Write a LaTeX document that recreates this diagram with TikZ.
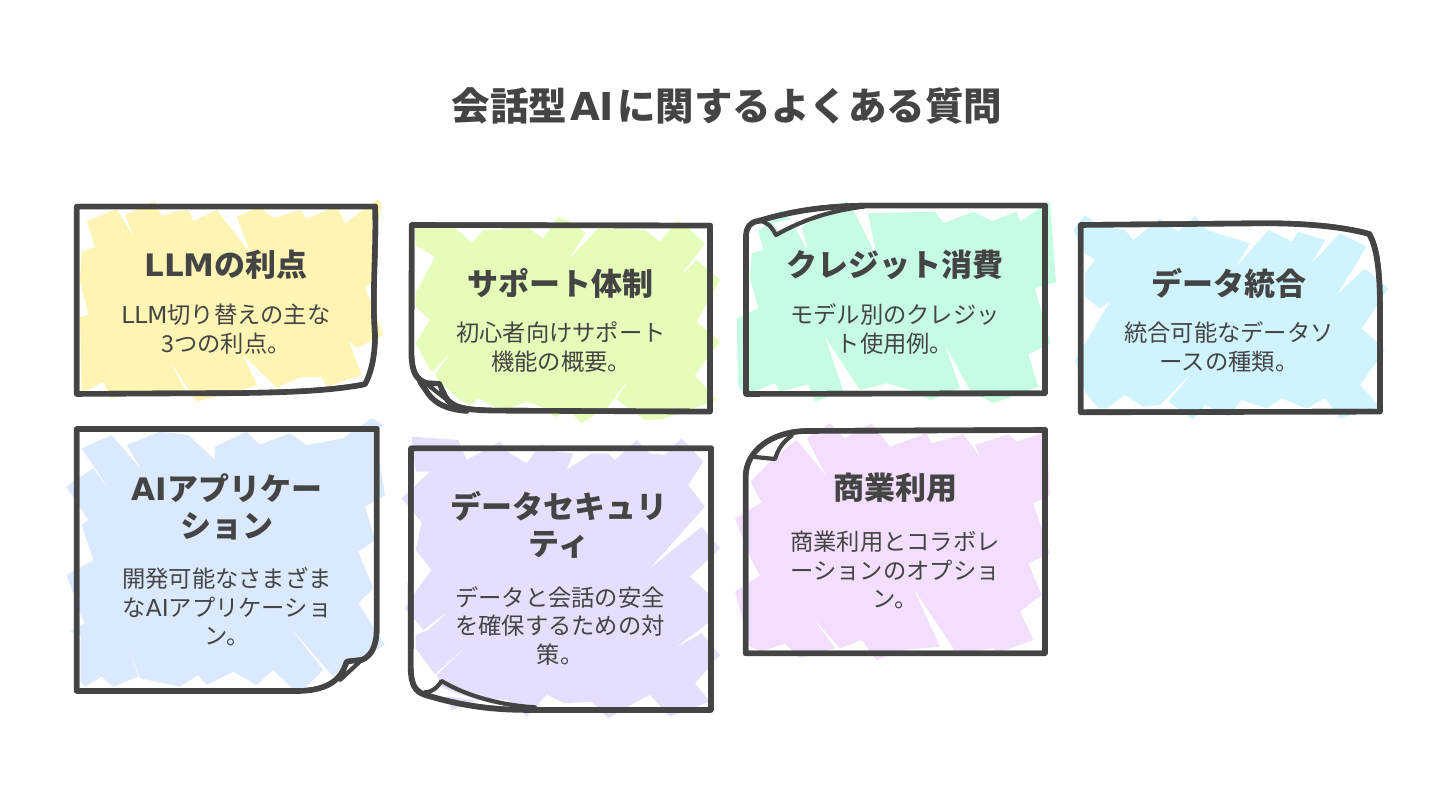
\documentclass[tikz,border=0pt]{standalone}
\usepackage{fontspec}
\setmainfont{Noto Sans CJK JP}
\newfontfamily\handfont{DejaVu Sans}
\definecolor{inkgray}{HTML}{444444}
\definecolor{noteyellow}{HTML}{FEF5B4}
\definecolor{notelime}{HTML}{E6FDB9}
\definecolor{notemint}{HTML}{C6FCE3}
\definecolor{notesky}{HTML}{D0F4FE}
\definecolor{noteblue}{HTML}{DBE9FE}
\definecolor{notelilac}{HTML}{E5DFFD}
\definecolor{notepink}{HTML}{F3DFFD}
\tikzset{
	cardgrid/.style = {shift={(#1)}, x=.3333pt, y=-.3333pt},
	frameline/.style = {draw=inkgray, line width=5.6pt, line join=round, line cap=round},
	foldline/.style = {frameline, line width=4.2pt},
	titletext/.style = {text=inkgray, font=\fontsize{38.5}{40}\selectfont\bfseries},
	headtext/.style = {text=inkgray, align=center, font=\fontsize{31}{37}\selectfont\bfseries},
	bodytext/.style = {text=inkgray, align=center, font=\fontsize{23.3}{28.5}\selectfont}
}
\newcommand{\noteframe}[1]{
	\draw[frameline] #1;
	\draw[foldline, xshift=.7pt, yshift=.7pt] #1;
}
\begin{document}
\begin{tikzpicture}[x=1pt, y=-1pt]
	\useasboundingbox (0,0) rectangle (1456,805);
	\fill[white] (0,0) rectangle (1456,805);
	\node[titletext] (title) at (727,106) {会話型\hspace{3pt}{\handfont AI}\hspace{3pt}に関するよくある質問};

	% first row
	\begin{scope}[cardgrid={60,195}]
		\fill[noteyellow] (80,78) -- (170,42) -- (222,128) -- (195,60) -- (285,18) -- (305,65) -- (350,48) -- (385,45) -- (400,78) -- (470,45) -- (572,175) -- (530,65) -- (600,35) -- (640,70) -- (720,45) -- (740,70) -- (830,35) -- (855,85) -- (955,12) -- (965,30) -- (948,120) -- (946,260) -- (915,275) -- (970,420) -- (890,460) -- (865,435) -- (905,540) -- (800,575) -- (785,545) -- (720,548) -- (650,578) -- (548,478) -- (592,572) -- (410,620) -- (325,490) -- (378,590) -- (270,605) -- (240,585) -- (220,510) -- (240,590) -- (150,610) -- (130,560) -- (85,585) -- (65,590) -- (60,365) -- (85,360) -- (60,255) -- (65,170) -- (105,155) -- cycle;
		\noteframe{(50,35) -- (945,35) .. controls (950,150) and (935,300) .. (945,420) .. controls (945,480) and (935,530) .. (915,568) .. controls (800,590) and (650,595) .. (400,595) -- (50,597) -- cycle}
	\end{scope}
	\node[headtext] (llmhead) at (226,265) {{\handfont LLM}の利点};
	\node[bodytext] (llmbody) at (226,329) {{\handfont LLM}切り替えの主な\\3つの利点。};

	\begin{scope}[cardgrid={395,210}]
		\fill[notelime] (60,50) -- (160,38) -- (205,75) -- (230,100) -- (265,60) -- (400,55) -- (445,85) -- (490,20) -- (525,35) -- (572,68) -- (520,150) -- (610,55) -- (750,60) -- (795,95) -- (850,30) -- (930,100) -- (855,200) -- (905,150) -- (975,210) -- (905,335) -- (975,395) -- (900,495) -- (965,570) -- (800,628) -- (750,630) -- (665,568) -- (705,500) -- (640,590) -- (560,640) -- (520,600) -- (480,622) -- (440,590) -- (395,575) -- (345,595) -- (295,590) -- (250,565) -- (225,585) -- (195,570) -- (130,510) -- (120,495) -- (165,430) -- (110,487) -- (62,400) -- (105,330) -- (62,290) -- (62,250) -- (120,140) -- (62,105) -- cycle;
		\noteframe{(50,45) -- (945,47) -- (945,605) -- (300,602) .. controls (210,600) and (170,595) .. (150,560) -- (132,522) -- (95,520) .. controls (60,510) and (50,480) .. (49,430) -- cycle}
		\draw[foldline, fill=white] (95,522) -- (132,522) -- (150,565) -- cycle;
		\draw[frameline] (75,515) -- (100,552) .. controls (120,578) and (150,598) .. (215,603);
	\end{scope}
	\node[headtext] (supporthead) at (560,283) {サポート体制};
	\node[bodytext] (supportbody) at (561,347) {初心者向けサポート\\機能の概要。};

	\begin{scope}[cardgrid={730,195}]
		\fill[notemint] (85,110) -- (155,45) -- (180,70) -- (195,100) -- (235,170) -- (215,95) -- (350,18) -- (375,55) -- (440,185) -- (415,55) -- (615,50) -- (640,85) -- (730,50) -- (790,80) -- (820,190) -- (760,88) -- (860,50) -- (870,80) -- (960,20) -- (978,262) -- (915,280) -- (962,445) -- (895,478) -- (925,575) -- (790,625) -- (720,585) -- (645,450) -- (690,578) -- (600,615) -- (560,590) -- (470,565) -- (390,585) -- (285,425) -- (340,588) -- (255,620) -- (235,568) -- (150,590) -- (135,565) -- (45,600) -- (25,575) -- (20,370) -- (85,340) -- (60,250) -- (65,175) -- (100,165) -- cycle;
		\fill[white] (125,85) -- (240,60) -- (148,108) -- cycle;
		\noteframe{(48,597) -- (48,120) .. controls (50,95) and (60,82) .. (85,78) .. controls (180,50) and (280,32) .. (420,32) -- (945,32) -- (945,595) -- cycle}
		\draw[foldline] (85,78) .. controls (110,78) and (125,95) .. (138,120) .. controls (200,85) and (280,50) .. (400,35);
	\end{scope}
	\node[headtext] (credithead) at (895,265) {クレジット消費};
	\node[bodytext] (creditbody) at (895,329) {モデル別のクレジッ\\ト使用例。};

	\begin{scope}[cardgrid={1065,210}]
		\fill[notesky] (25,60) -- (60,15) -- (105,50) -- (180,60) -- (205,90) -- (285,25) -- (340,65) -- (390,18) -- (425,60) -- (555,100) -- (510,175) -- (610,60) -- (680,95) -- (700,65) -- (780,90) -- (740,160) -- (825,70) -- (905,110) -- (815,255) -- (900,175) -- (970,235) -- (890,355) -- (960,420) -- (885,525) -- (945,590) -- (825,625) -- (780,565) -- (725,595) -- (650,565) -- (605,595) -- (530,570) -- (490,620) -- (420,585) -- (385,630) -- (310,575) -- (380,490) -- (285,585) -- (235,590) -- (180,555) -- (125,595) -- (100,595) -- (62,550) -- (30,450) -- (135,275) -- (105,295) -- (60,260) -- (60,190) -- (90,150) -- (60,130) -- cycle;
		\noteframe{(47,45) -- (600,40) .. controls (750,40) and (850,55) .. (912,72) .. controls (935,110) and (945,180) .. (945,300) -- (945,605) -- (47,607) -- cycle}
	\end{scope}
	\node[headtext] (datahead) at (1229,283) {データ統合};
	\node[bodytext] (databody) at (1229,347) {統合可能なデータソ\\ースの種類。};

	% second row
	\begin{scope}[cardgrid={60,415}]
		\fill[noteblue] (65,100) -- (155,60) -- (245,165) -- (200,90) -- (300,50) -- (385,60) -- (465,135) -- (465,95) -- (560,50) -- (600,90) -- (655,135) -- (595,90) -- (690,55) -- (740,90) -- (785,160) -- (740,90) -- (850,70) -- (935,10) -- (970,30) -- (945,60) -- (975,240) -- (915,275) -- (945,375) -- (895,410) -- (940,520) -- (895,565) -- (975,690) -- (905,730) -- (855,745) -- (820,785) -- (680,625) -- (790,765) -- (715,838) -- (640,765) -- (590,810) -- (520,770) -- (440,810) -- (415,780) -- (360,815) -- (240,790) -- (195,670) -- (235,785) -- (160,815) -- (125,785) -- (75,815) -- (62,800) -- (62,660) -- (30,650) -- (75,625) -- (62,600) -- (20,480) -- (100,435) -- (65,330) -- (85,315) -- (62,280) -- (18,215) -- (100,160) -- (158,238) -- cycle;
		\noteframe{(50,42) -- (950,42) -- (950,640) .. controls (950,700) and (930,725) .. (905,735) -- (860,740) .. controls (850,770) and (830,825) .. (720,828) -- (50,828) -- cycle}
		\draw[foldline, fill=white] (905,735) -- (862,742) -- (840,795) -- cycle;
	\end{scope}
	\node[headtext] (apphead) at (227,507) {{\handfont AI}アプリケー\\ション};
	\node[bodytext] (appbody) at (227,607) {開発可能なさまざま\\な{\handfont AI}アプリケーショ\\ン。};

	\begin{scope}[cardgrid={395,435}]
		\fill[notelilac] (50,5) -- (190,15) -- (215,75) -- (260,50) -- (315,20) -- (345,55) -- (395,85) -- (440,25) -- (480,50) -- (535,55) -- (515,105) -- (590,55) -- (640,55) -- (660,75) -- (725,15) -- (765,55) -- (810,60) -- (860,10) -- (925,80) -- (880,150) -- (930,215) -- (765,400) -- (920,275) -- (975,340) -- (885,425) -- (945,480) -- (945,560) -- (840,640) -- (920,595) -- (975,660) -- (900,745) -- (945,800) -- (825,845) -- (765,780) -- (725,800) -- (640,850) -- (590,800) -- (510,805) -- (455,780) -- (395,845) -- (340,795) -- (260,790) -- (170,825) -- (140,750) -- (125,720) -- (240,610) -- (120,718) -- (62,640) -- (62,600) -- (100,585) -- (165,525) -- (85,585) -- (30,520) -- (62,470) -- (110,405) -- (62,345) -- (80,262) -- (20,190) -- (105,110) -- (62,110) -- cycle;
		\fill[white] (145,760) -- (250,797) -- (130,780) -- cycle;
		\noteframe{(48,40) -- (948,40) -- (948,825) -- (400,825) .. controls (280,825) and (190,810) .. (90,780) .. controls (60,770) and (48,750) .. (47,700) -- cycle}
		\draw[foldline] (90,772) .. controls (110,772) and (125,760) .. (140,738) .. controls (200,775) and (300,810) .. (420,817);
	\end{scope}
	\node[headtext] (securityhead) at (559,525) {データセキュリ\\ティ};
	\node[bodytext] (securitybody) at (560,626) {データと会話の安全\\を確保するための対\\策。};

	\begin{scope}[cardgrid={730,415}]
		\fill[notepink] (62,200) -- (130,130) -- (200,75) -- (290,185) -- (230,70) -- (300,25) -- (345,70) -- (425,25) -- (480,95) -- (590,55) -- (630,135) -- (605,85) -- (700,58) -- (750,125) -- (735,90) -- (835,58) -- (860,80) -- (950,50) -- (960,240) -- (910,265) -- (960,415) -- (895,445) -- (935,540) -- (870,590) -- (910,675) -- (800,715) -- (760,650) -- (790,700) -- (680,715) -- (550,520) -- (630,695) -- (520,705) -- (440,735) -- (395,675) -- (330,700) -- (250,610) -- (315,700) -- (210,730) -- (165,685) -- (95,710) -- (60,695) -- (15,530) -- (90,482) -- (62,430) -- (15,310) -- (95,262) -- cycle;
		\fill[white] (100,118) -- (145,85) -- (130,130) -- cycle;
		\noteframe{(47,715) -- (47,180) .. controls (50,110) and (120,50) .. (230,48) -- (945,45) -- (945,715) -- cycle}
		\draw[foldline] (65,125) -- (135,132) .. controls (145,100) and (160,80) .. (185,62);
	\end{scope}
	\node[headtext] (bizhead) at (895,488) {商業利用};
	\node[bodytext] (bizbody) at (895,570) {商業利用とコラボレ\\ーションのオプショ\\ン。};
\end{tikzpicture}
\end{document}
